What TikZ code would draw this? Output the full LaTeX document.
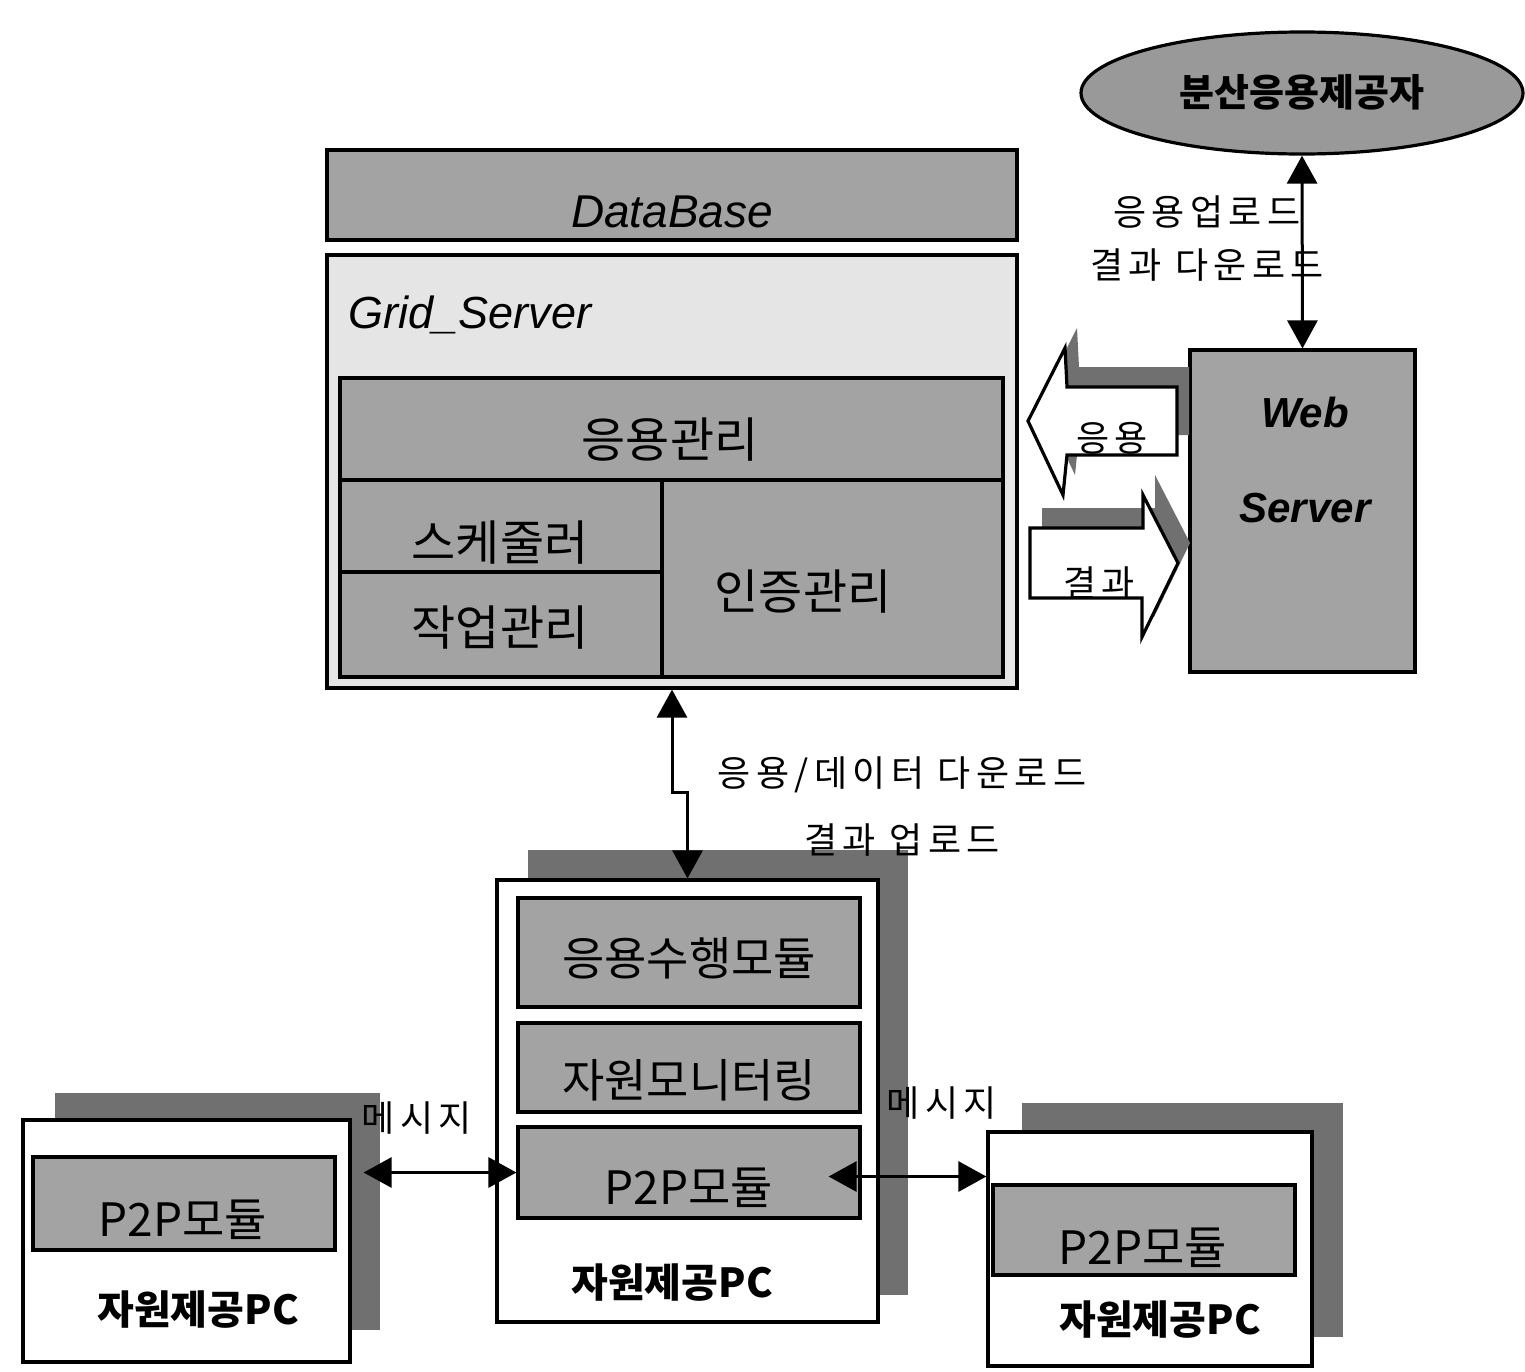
\documentclass[tikz,border=0pt]{standalone}
\usepackage{fontspec}
\setmainfont{Liberation Sans}
\newfontfamily\kr{Noto Sans CJK KR}
\newfontfamily\krw{Noto Sans CJK KR}[LetterSpace=15]
\usetikzlibrary{arrows.meta,fit,shapes.geometric}
\definecolor{midgray}{gray}{0.64}
\definecolor{lightgray}{gray}{0.9}
\definecolor{shadgray}{gray}{0.44}
\definecolor{ellgray}{gray}{0.6}
\begin{document}
\begin{tikzpicture}[x=0.5pt,y=-0.5pt,
  box/.style={draw=black,line width=1.6pt,fill=midgray,inner sep=0pt},
  lbox/.style={draw=black,line width=1.6pt,fill=lightgray,inner sep=0pt},
  wbox/.style={draw=black,line width=1.6pt,fill=white,inner sep=0pt},
  shadowbox/.style={fill=shadgray,inner sep=0pt},
  kt/.style={font=\kr\fontsize{24}{27}\selectfont,inner sep=0pt},
  ktm/.style={font=\kr\fontsize{23}{26}\selectfont,inner sep=0pt},
  kts/.style={font=\krw\fontsize{18}{21}\selectfont,inner sep=0pt},
  ktb/.style={font=\kr\bfseries\fontsize{20}{23}\selectfont,inner sep=0pt},
  lat/.style={font=\itshape\fontsize{23}{27}\selectfont,inner sep=0pt},
  latb/.style={font=\bfseries\itshape\fontsize{21}{25}\selectfont,inner sep=0pt},
  dbl/.style={line width=1.5pt,{Triangle[length=14pt,width=15pt]}-{Triangle[length=14pt,width=15pt]}},
  blockarrow/.style={draw=black,line width=1.6pt,fill=white,line join=miter},
  blockshadow/.style={fill=shadgray}]
\useasboundingbox (0,0) rectangle (1525,1371);
\fill[white] (0,0) rectangle (1525,1371);

% provider ellipse
\node[ellipse,draw=black,line width=1.6pt,fill=ellgray,minimum width=221pt,minimum height=61pt,inner sep=0pt] (prov) at (1302,93) {};
\node[font=\kr\bfseries\fontsize{19}{22}\selectfont,inner sep=0pt] (provt) at (1302,92) {분산응용제공자};

% database and grid server
\node[box,fit={(327,150)(1017,240)}] (db) {};
\node[lat] (dbt) at (672,212) {DataBase};
\node[lbox,fit={(327,255)(1017,688)}] (grid) {};
\node[lat,font=\itshape\fontsize{22.5}{26}\selectfont] (gridt) at (470,315) {Grid\_Server};
\node[box,fit={(340,378)(1003,480)}] (appm) {};
\node[kt] (appmt) at (670,440) {응용관리};
\node[box,fit={(340,480)(662,572)}] (sched) {};
\node[kt] (schedt) at (500,543) {스케줄러};
\node[box,fit={(340,572)(662,677)}] (job) {};
\node[kt] (jobt) at (500,628) {작업관리};
\node[box,fit={(662,480)(1003,677)}] (auth) {};
\node[kt] (autht) at (803,592) {인증관리};

% web server
\node[box,fit={(1190,350)(1415,672)}] (web) {};
\node[latb] (webt1) at (1305,412) {Web};
\node[latb] (webt2) at (1305,508) {Server};

\draw[dbl] (prov.south) -- (web.north);
\node[kts] (upl) at (1207,212) {응용업로드};
\node[kts] (dnl) at (1207,265) {결과 다운로드};

% block arrows between web server and grid server
\fill[blockshadow,shift={(12,-20)}] (1028,421) -- (1065,348) -- (1067,387) -- (1177,387) -- (1177,455) -- (1067,455) -- (1063,495) -- cycle;
\draw[blockarrow] (1028,421) -- (1065,348) -- (1067,387) -- (1177,387) -- (1177,455) -- (1067,455) -- (1063,495) -- cycle;
\node[kts] (appa) at (1112,438) {응용};
\fill[blockshadow,shift={(12,-20)}] (1030,528) -- (1143,528) -- (1143,495) -- (1178,563) -- (1142,637) -- (1142,598) -- (1030,598) -- cycle;
\draw[blockarrow] (1030,528) -- (1143,528) -- (1143,495) -- (1178,563) -- (1142,637) -- (1142,598) -- (1030,598) -- cycle;
\node[kts] (resa) at (1099,583) {결과};

% resource PCs
\node[shadowbox,fit={(528,850)(908,1295)}] (cpcs) {};
\node[wbox,fit={(497,880)(878,1322)}] (cpc) {};
\node[box,fit={(518,898)(860,1007)}] (cexec) {};
\node[ktm] (cexect) at (689,958) {응용수행모듈};
\node[box,fit={(518,1023)(860,1112)}] (cmon) {};
\node[ktm] (cmont) at (689,1080) {자원모니터링};
\node[box,fit={(518,1127)(860,1218)}] (cp2p) {};
\node[ktm] (cp2pt) at (689,1188) {P2P모듈};
\node[ktb] (cpct) at (672,1283) {자원제공PC};

\node[shadowbox,fit={(55,1093)(380,1330)}] (lpcs) {};
\node[wbox,fit={(23,1120)(350,1362)}] (lpc) {};
\node[box,fit={(33,1157)(335,1250)}] (lp2p) {};
\node[ktm] (lp2pt) at (183,1220) {P2P모듈};
\node[ktb] (lpct) at (198,1310) {자원제공PC};

\node[shadowbox,fit={(1022,1103)(1343,1337)}] (rpcs) {};
\node[wbox,fit={(988,1132)(1312,1366)}] (rpc) {};
\node[box,fit={(993,1185)(1295,1275)}] (rp2p) {};
\node[ktm] (rp2pt) at (1143,1248) {P2P모듈};
\node[ktb] (rpct) at (1160,1320) {자원제공PC};

% grid server <-> center PC
\coordinate (jog) at (0,792);
\draw[dbl] (grid.south) -- (grid.south |- jog) -- (cpc.north |- jog) -- (cpc.north);
\node[kts] (dl) at (902,775) {응용/데이터 다운로드};
\node[kts] (ul) at (902,840) {결과 업로드};

% messages
\path (lpc.east |- cp2p.west) ++(12,0) coordinate (lend);
\draw[dbl] (lend) -- (cp2p.west);
\node[kts] (msgl) at (417,1118) {메시지};
\path (cp2p.east) ++(-33,4) coordinate (rstart);
\draw[dbl] (rstart) -- (rpc.west |- rstart);
\node[kts] (msgr) at (942,1103) {메시지};
\end{tikzpicture}
\end{document}
